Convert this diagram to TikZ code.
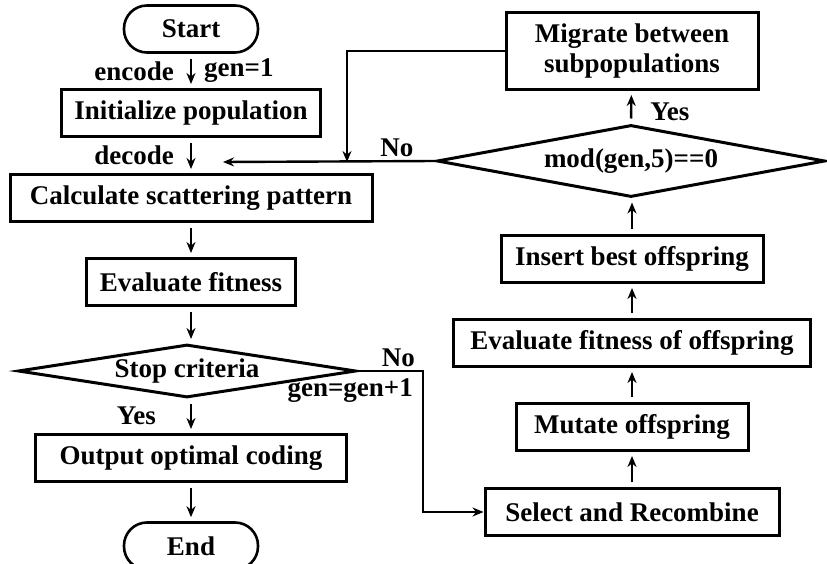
\documentclass[tikz,border=0pt]{standalone}
\usepackage{fontspec}
\setmainfont{Liberation Serif}
\usetikzlibrary{shapes.geometric}
\usetikzlibrary{positioning}
\usetikzlibrary{arrows.meta}

\begin{document}
\begin{tikzpicture}[x=1pt,y=-1pt,
    font=\fontsize{27}{30}\selectfont\bfseries,
    box/.style={draw,line width=3pt,minimum height=47pt,inner sep=2pt},
    term/.style={draw,line width=2.6pt,rounded corners=23pt,minimum width=134pt,minimum height=47pt},
    cond/.style={draw,diamond,line width=3pt,inner sep=0pt},
    flow/.style={line width=2.4pt,-{Stealth[length=11pt,width=9pt]},shorten <=5pt,shorten >=4pt},
    link/.style={line width=2.4pt,-{Stealth[length=11pt,width=9pt]}},
    lbl/.style={inner sep=0pt}]
\useasboundingbox (0,0) rectangle (827,564);
% left column
\node[term] (start) at (191,29) {Start};
\node[box,minimum width=259pt] (init) at (191,113) {Initialize population};
\node[box,minimum width=362pt] (calc) at (191,198) {Calculate scattering pattern};
\node[box,minimum width=209pt] (fit) at (191,282) {Evaluate fitness};
\node[cond,aspect=6.4,minimum width=338pt,minimum height=53pt] (stop) at (187,371) {Stop criteria};
\node[box,minimum width=311pt] (out) at (191,458) {Output optimal coding};
\node[term] (end) at (191,546) {End};
% right column
\node[box,minimum width=294pt] (sel) at (632,512) {Select and Recombine};
\node[box,minimum width=232pt] (mut) at (632,427) {Mutate offspring};
\node[box,minimum width=357pt] (evoff) at (632,343) {Evaluate fitness of offspring};
\node[box,minimum width=262pt] (ins) at (632,259) {Insert best offspring};
\node[cond,aspect=5.4,minimum width=388pt,minimum height=72pt] (mod) at (631,161) {mod(gen,5)==0};
\node[box,minimum width=252pt,minimum height=77pt,align=center] (mig) at (632,51) {Migrate between\\subpopulations};
% turning points
\coordinate (nojog) at (423,371);
\coordinate (back) at (223,162);
\coordinate (mergeup) at (347,162);
% main flow
\draw[flow] (start) -- node[lbl,left=16pt] {encode} node[lbl,right=12pt] {gen=1} (init);
\draw[flow] (init) -- node[lbl,left=16pt] {decode} (calc);
\draw[flow] (calc) -- (fit);
\draw[flow] (fit) -- (fit.south |- stop.north);
\draw[flow] (fit.south |- stop.south) -- node[lbl,left=34pt] {Yes} (out);
\draw[flow] (out) -- (end);
% offspring loop
\draw[link] (stop.east) -- (nojog) |- (sel.west);
\draw[flow] (sel) -- (mut);
\draw[flow] (mut) -- (evoff);
\draw[flow] (evoff) -- (ins);
\draw[flow] (ins) -- (ins.north |- mod.south);
\draw[flow] (mod.north) -- node[lbl,pos=0.35,right=18pt] {Yes} (mig);
\draw[link] (mod.west) -- (back);
\draw[link] (mig.west) -| (mergeup);
%% labels of the branches
\node[lbl,above left=4pt and 8pt of nojog] {No};
\node[lbl,below left=7pt and 10pt of nojog] {gen=gen+1};
\node[lbl,above left=4pt and 22pt of mod.west] {No};
\end{tikzpicture}
\end{document}
